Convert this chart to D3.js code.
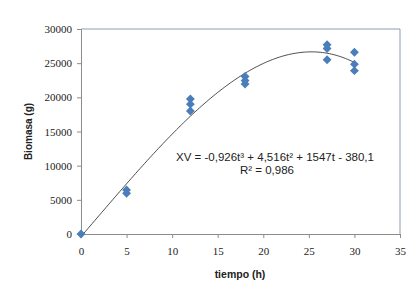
<!DOCTYPE html>
<html>
<head>
<meta charset="utf-8">
<script src="https://cdn.jsdelivr.net/npm/d3@7"></script>
<style>
  body { margin: 0; background: #fff; }
  svg { display: block; }
</style>
</head>
<body>
<script>
var w = 414;
var h = 287;

// observed points (tiempo h, biomasa g)
var tiempo  = [0, 5, 5, 12, 12, 12, 18, 18, 18, 27, 27, 27, 30, 30, 30];
var biomasa = [0, 6450, 5950, 19750, 19000, 18000, 23050, 22450, 21950, 27700, 27150, 25500, 26600, 24850, 23900];

// trendline coefficients shown on the chart: XV = a t^3 + b t^2 + c t + d
var coef = [-0.926, 4.516, 1547, -380.1];
var eqLine1 = "XV = -0,926t\u00b3 + 4,516t\u00b2 + 1547t - 380,1";
var eqLine2 = "R\u00b2 = 0,986";

var xTicks = [0, 5, 10, 15, 20, 25, 30, 35];
var yTicks = [0, 5000, 10000, 15000, 20000, 25000, 30000];

var margin = {top: 29, right: 14, bottom: 53, left: 81};

var svg = d3.select("body").append("svg")
    .attr("width", w)
    .attr("height", h);

var x = d3.scaleLinear().domain([0, 35]).range([margin.left, w - margin.right]);
var y = d3.scaleLinear().domain([0, 30000]).range([h - margin.bottom, margin.top]);

//plot area border (top and right)
svg.append("path")
    .attr("d", "M" + x(0) + "," + y(30000) + "H" + x(35) + "V" + y(0))
    .attr("fill", "none")
    .attr("stroke", "#8b9db3")
    .attr("stroke-width", 1);

//y axis
var yAxis = svg.append("g")
    .attr("transform", "translate(" + x(0) + ",0)")
    .call(d3.axisLeft(y).tickValues(yTicks).tickSize(4).tickPadding(5).tickFormat(d3.format("d")));

//x axis
var xAxis = svg.append("g")
    .attr("transform", "translate(0," + y(0) + ")")
    .call(d3.axisBottom(x).tickValues(xTicks).tickSize(4).tickPadding(9));

[xAxis, yAxis].forEach(function(a) {
  a.attr("font-family", "Liberation Serif, serif").attr("font-size", 11);
  a.select(".domain").attr("stroke", "#8c8c8c");
  a.selectAll(".tick line").attr("stroke", "#8c8c8c");
  a.selectAll(".tick text").attr("fill", "#222");
});

//trend line
var tline = d3.range(0, 30.01, 0.25).map(function(t) {
  var v = coef[0]*t*t*t + coef[1]*t*t + coef[2]*t + coef[3];
  return [t, Math.max(0, v)];
});

svg.append("path")
    .datum(tline)
    .attr("d", d3.line().x(function(d) { return x(d[0]); }).y(function(d) { return y(d[1]); }))
    .attr("fill", "none")
    .attr("stroke", "#222")
    .attr("stroke-width", 0.8);

//points
svg.selectAll(".pt")
    .data(tiempo)
    .enter().append("path")
    .attr("class", "pt")
    .attr("d", d3.symbol().type(d3.symbolDiamond2).size(50))
    .attr("transform", function(d, i) { return "translate(" + x(d) + "," + y(biomasa[i]) + ")"; })
    .attr("fill", "#4a7ebb");

//equation
svg.append("text")
    .attr("x", 275)
    .attr("y", 161)
    .attr("text-anchor", "middle")
    .attr("font-family", "Liberation Sans Narrow, Liberation Sans, sans-serif")
    .attr("font-size", 11.5)
    .attr("fill", "#222")
    .text(eqLine1);

svg.append("text")
    .attr("x", 267)
    .attr("y", 174)
    .attr("text-anchor", "middle")
    .attr("font-family", "Liberation Sans Narrow, Liberation Sans, sans-serif")
    .attr("font-size", 11.5)
    .attr("fill", "#222")
    .text(eqLine2);

//axis titles
svg.append("text")
    .attr("x", 240)
    .attr("y", 278)
    .attr("text-anchor", "middle")
    .attr("font-family", "Liberation Sans Narrow, Liberation Sans, sans-serif")
    .attr("font-size", 10.5)
    .attr("font-weight", "bold")
    .attr("fill", "#222")
    .text("tiempo (h)");

svg.append("text")
    .attr("transform", "translate(32," + ((y(0) + y(30000)) / 2) + ") rotate(-90)")
    .attr("text-anchor", "middle")
    .attr("font-family", "Liberation Sans, sans-serif")
    .attr("font-size", 10)
    .attr("font-weight", "bold")
    .attr("fill", "#222")
    .text("Biomasa (g)");
</script>
</body>
</html>
